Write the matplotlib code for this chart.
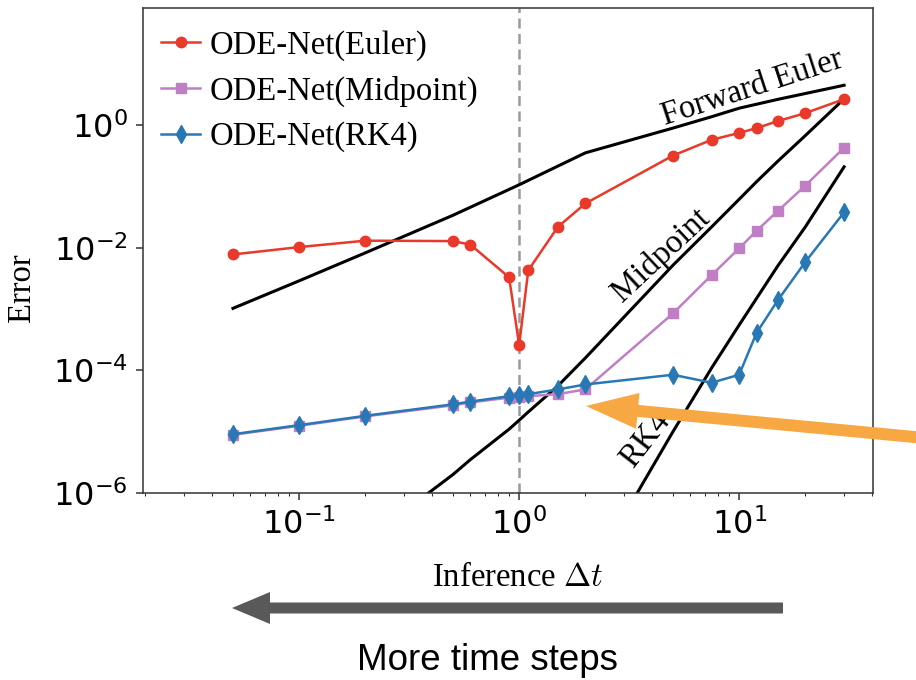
import matplotlib.pyplot as plt
from matplotlib.patches import FancyArrow
from matplotlib.transforms import IdentityTransform
from matplotlib.ticker import NullLocator

# step sizes used at inference time
dt = [0.05, 0.1, 0.2, 0.5, 0.6, 0.9, 1.0, 1.1, 1.5, 2, 5, 7.5, 10, 12, 15, 20, 30]

# ODE-Net errors for each solver
err_euler = [7.8e-3, 1.03e-2, 1.31e-2, 1.29e-2, 1.13e-2, 3.3e-3, 2.6e-4, 4.3e-3,
             2.2e-2, 5.3e-2, 0.32, 0.58, 0.75, 0.90, 1.17, 1.58, 2.67]
err_midpoint = [8.9e-6, 1.25e-5, 1.78e-5, 2.7e-5, 3.0e-5, 3.6e-5, 3.7e-5, 3.8e-5,
                4.1e-5, 4.9e-5, 8.5e-4, 3.6e-3, 9.8e-3, 1.9e-2, 4.0e-2, 0.104, 0.43]
err_rk4 = [9.1e-6, 1.28e-5, 1.82e-5, 2.8e-5, 3.1e-5, 3.8e-5, 3.9e-5, 4.1e-5,
           4.9e-5, 5.9e-5, 8.5e-5, 6.3e-5, 8.5e-5, 4.1e-4, 1.4e-3, 5.9e-3, 3.8e-2]

# reference error of the classical solvers
dt_fe = [0.05, 0.1, 0.2, 0.5, 1, 2, 5, 7.5, 10, 15, 20, 30]
err_fe = [1.03e-3, 2.9e-3, 8.3e-3, 0.034, 0.107, 0.355, 0.9, 1.38, 1.9, 2.65, 3.3, 4.5]
dt_mid = [0.38, 0.5, 0.6, 0.9, 1, 1.1, 1.5, 2, 5, 7.5, 10, 12, 15, 20, 30]
err_mid = [9.5e-7, 2.0e-6, 3.5e-6, 1.1e-5, 1.54e-5, 2.1e-5, 5.6e-5, 1.6e-4,
           5.2e-3, 2.2e-2, 6.2e-2, 0.12, 0.26, 0.68, 2.7]
dt_rk = [3.4, 5, 7.5, 10, 12, 15, 20, 30]
err_rk = [9.3e-7, 1.0e-5, 1.1e-4, 5.5e-4, 1.5e-3, 5.1e-3, 0.022, 0.21]

plt.rcParams['font.family'] = ['Liberation Serif', 'DejaVu Serif']

fig = plt.figure(figsize=(9.16, 6.8), dpi=100)
ax = fig.add_axes([143 / 916, 1 - 493 / 680, 730 / 916, 485 / 680])

ax.axvline(1.0, color='#9a9a9a', lw=1.8, dashes=(4, 2.2), zorder=1)

ax.plot(dt_fe, err_fe, color='k', lw=2.2)
ax.plot(dt_mid, err_mid, color='k', lw=2.2)
ax.plot(dt_rk, err_rk, color='k', lw=2.2)

ax.plot(dt, err_euler, color='#e8392a', lw=1.8, marker='o', ms=7.5,
        label='ODE-Net(Euler)')
ax.plot(dt, err_midpoint, color='#c07ec4', lw=1.8, marker='s', ms=7,
        label='ODE-Net(Midpoint)')
ax.plot(dt, err_rk4, color='#2878b5', lw=1.8, marker='d', ms=9,
        label='ODE-Net(RK4)')

ax.text(11.5, 4.06, 'Forward Euler', fontsize=23.5, rotation=18,
        rotation_mode='anchor', ha='center', va='center')
ax.text(4.42, 7.7e-3, 'Midpoint', fontsize=23.5, rotation=43,
        rotation_mode='anchor', ha='center', va='center')
ax.text(3.74, 7.4e-6, 'RK4', fontsize=23.5, rotation=52,
        rotation_mode='anchor', ha='center', va='center')

ax.set_xscale('log')
ax.set_yscale('log')
ax.set_xlim(0.0195, 40.6)
ax.set_ylim(1e-6, 82)
ax.set_yticks([1e-6, 1e-4, 1e-2, 1])
ax.yaxis.set_minor_locator(NullLocator())
ax.tick_params(which='major', labelsize=23, length=5, width=1.1,
               color='#333333', pad=6, labelfontfamily='DejaVu Sans')
ax.tick_params(which='minor', length=2.5, width=0.8, color='#333333')
for sp in ax.spines.values():
    sp.set_linewidth(1.1)
    sp.set_color('#333333')

ax.legend(loc='upper left', bbox_to_anchor=(161 / 916, 1 - 30 / 680),
          bbox_transform=fig.transFigure, frameon=False, fontsize=23.5,
          handlelength=1.2, handletextpad=0.3, labelspacing=0.45,
          borderpad=0, borderaxespad=0, numpoints=1)

fig.text(22 / 916, 1 - 288 / 680, 'Error', rotation=90, ha='center',
         va='center', fontsize=23.5)
fig.text(518 / 916, 1 - 578 / 680, r'Inference $\Delta t$', ha='center',
         va='center', fontsize=23.5, math_fontfamily='cm')
fig.text(487 / 916, 1 - 660 / 680, 'More time steps', ha='center',
         va='center', fontsize=26.5, family='Liberation Sans')

# arrows in figure pixels
px = IdentityTransform()
fig.add_artist(FancyArrow(783, 72, -551, 0, width=11, head_width=32,
                          head_length=38, length_includes_head=True,
                          color='#595959', lw=0, transform=px, zorder=3))
fig.add_artist(FancyArrow(925, 242, -339, 32, width=12, head_width=36,
                          head_length=52, length_includes_head=True,
                          color='#f8a842', lw=0, transform=px, zorder=3))

fig.savefig('out.png', dpi=100)
